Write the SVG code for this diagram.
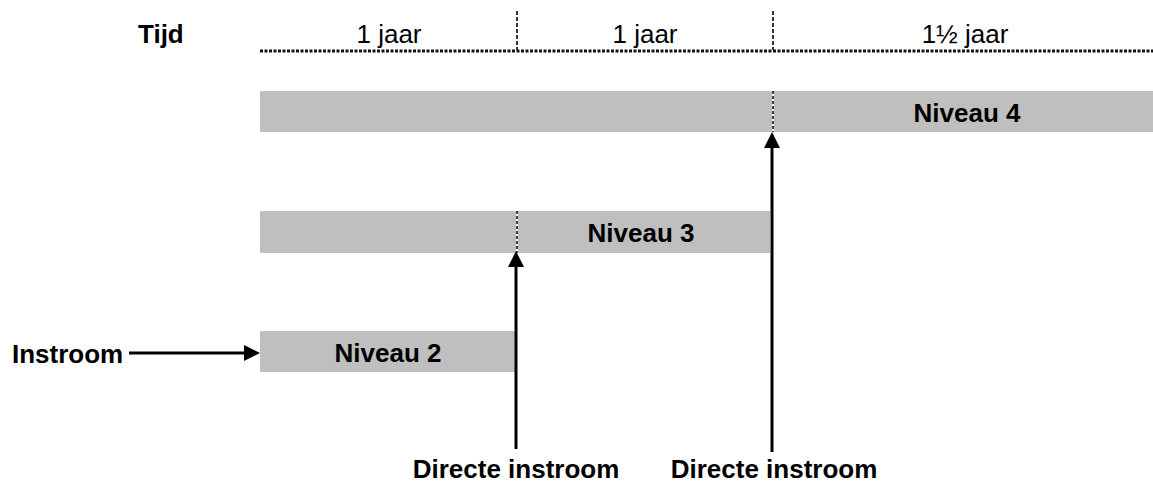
<svg xmlns="http://www.w3.org/2000/svg" width="1153" height="486" viewBox="0 0 1153 486">
<style>
  .b { font-family: "Liberation Sans", Arial, sans-serif; font-weight: bold; font-size: 26px; fill: #000; }
  .r { font-family: "Liberation Sans", Arial, sans-serif; font-size: 26px; fill: #000; }
  .bar { fill: #bfbfbf; }
  .tick { stroke: #333; stroke-width: 2; stroke-dasharray: 4 2; }
  .sep-w { stroke: #fff; stroke-width: 2; }
  .sep-k { stroke: #000; stroke-width: 1.5; stroke-dasharray: 3 2; }
  .arrow { stroke: #000; stroke-width: 3; fill: none; marker-end: url(#ah); }
</style>
<defs>
  <marker id="ah" markerUnits="userSpaceOnUse" markerWidth="16" markerHeight="16" refX="2" refY="8" orient="auto">
    <path d="M0,0 L16,8 L0,16 z" fill="#000"/>
  </marker>
</defs>
<rect width="1153" height="486" fill="#fff"/>

<g id="timeline">
  <text class="b" x="138" y="43">Tijd</text>
  <line x1="260" y1="51" x2="1153" y2="51" stroke="#111" stroke-width="3" stroke-dasharray="3 1.5"/>
  <line class="tick" x1="517" y1="11" x2="517" y2="50"/>
  <line class="tick" x1="773" y1="11" x2="773" y2="50"/>
  <text class="r" x="389" y="43" text-anchor="middle">1 jaar</text>
  <text class="r" x="645" y="43" text-anchor="middle">1 jaar</text>
  <text class="r" x="965" y="43" text-anchor="middle">1½ jaar</text>
</g>

<g id="niveau4">
  <rect class="bar" x="260" y="91" width="893" height="41"/>
  <line class="sep-w" x1="773" y1="91" x2="773" y2="132"/>
  <line class="sep-k" x1="773" y1="91" x2="773" y2="132"/>
  <text class="b" x="967" y="122" text-anchor="middle">Niveau 4</text>
</g>

<g id="niveau3">
  <rect class="bar" x="260" y="211" width="510" height="42"/>
  <line class="sep-w" x1="517" y1="211" x2="517" y2="253"/>
  <line class="sep-k" x1="517" y1="211" x2="517" y2="253"/>
  <text class="b" x="641" y="242" text-anchor="middle">Niveau 3</text>
</g>

<g id="niveau2">
  <rect class="bar" x="260" y="331" width="257" height="41"/>
  <text class="b" x="388" y="362" text-anchor="middle">Niveau 2</text>
</g>

<g id="instroom">
  <text class="b" x="12" y="363">Instroom</text>
</g>

<g id="directe-instroom-1">
  <text class="b" x="516" y="478" text-anchor="middle">Directe instroom</text>
</g>

<g id="directe-instroom-2">
  <text class="b" x="774" y="478" text-anchor="middle">Directe instroom</text>
</g>

<g id="connectors">
  <line class="arrow" x1="129" y1="353" x2="246" y2="353"/>
  <line class="arrow" x1="516" y1="449" x2="516" y2="265"/>
  <line class="arrow" x1="772" y1="452" x2="772" y2="146"/>
</g>
</svg>
